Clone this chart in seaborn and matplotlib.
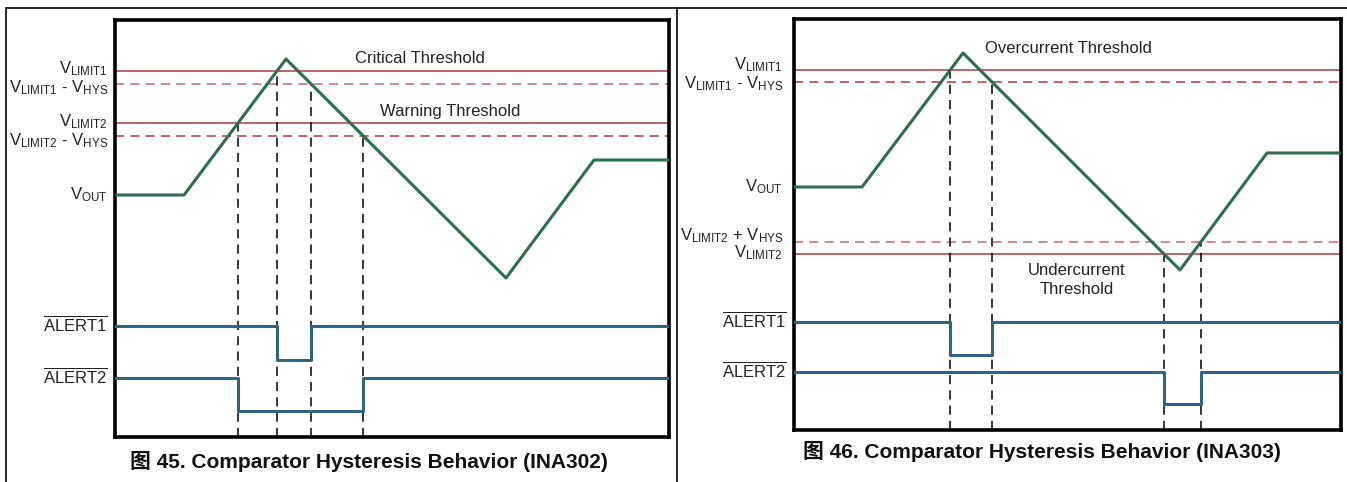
import numpy as np
import pandas as pd
import matplotlib
matplotlib.use("Agg")
import matplotlib.pyplot as plt
import seaborn as sns
from matplotlib.lines import Line2D
import matplotlib.transforms as mtransforms

## data (time in arbitrary units, levels in arbitrary units)
# INA302
t302 = [0, 69, 171, 391, 479, 554]
vout302 = [242, 242, 378, 159, 277, 277]
vlimit1_302 = 366
vlimit1_hys_302 = 353
vlimit2_302 = 314
vlimit2_hys_302 = 301
alert1_302 = (111, 77)   # high, low
alert2_302 = (59, 26)

# INA303
t303 = [0, 68, 169, 386, 473, 547]
vout303 = [243, 243, 377, 160, 277, 277]
vlimit1_303 = 360
vlimit1_hys_303 = 348
vlimit2_hys_303 = 188
vlimit2_303 = 176
alert1_303 = (108, 75)
alert2_303 = (58, 26)

captions = ["图 45. Comparator Hysteresis Behavior (INA302)",
            "图 46. Comparator Hysteresis Behavior (INA303)"]

GREEN = "#2d6e4c"
BLUE = "#2f6580"
RED = "#b03a3a"
RED_D = "#c46a6a"

sns.set_theme(style="white")
plt.rcParams['font.family'] = ['Liberation Sans', 'Noto Sans CJK SC', 'DejaVu Sans']
plt.rcParams['mathtext.fontset'] = 'custom'
plt.rcParams['mathtext.rm'] = 'Liberation Sans'
plt.rcParams['mathtext.it'] = 'Liberation Sans:italic'
plt.rcParams['mathtext.bf'] = 'Liberation Sans:bold'

W, H = 1347, 482
fig = plt.figure(figsize=(W / 100, H / 100), dpi=100)


def px_axes(x0, y0, x1, y1):
    return fig.add_axes([x0 / W, 1 - y1 / H, (x1 - x0) / W, (y1 - y0) / H])


def cross(t, v, i, level):
    # time where segment i..i+1 of the waveform passes level
    a, b = v[i], v[i + 1]
    ta, tb = t[i], t[i + 1]
    return ta + (level - a) * (tb - ta) / (b - a)


def step(tend, high, low, c1, c2):
    return pd.DataFrame({"t": [0, c1, c1, c2, c2, tend],
                         "v": [high, high, low, low, high, high]})


def label(ax, txt, level, dx, dy, size=12):
    off = mtransforms.offset_copy(ax.get_yaxis_transform(), fig=fig,
                                  x=-dx, y=-dy, units='dots')
    ax.text(0, level, txt, transform=off, ha='right', va='center',
            fontsize=size, color='#222222')


def style(ax, tend, top):
    ax.set_xlim(0, tend)
    ax.set_ylim(0, top)
    ax.set_xticks([])
    ax.set_yticks([])
    ax.set_xlabel("")
    ax.set_ylabel("")
    for s in ax.spines.values():
        s.set_visible(True)
        s.set_color("black")
        s.set_linewidth(2.6)


# ---------------- INA302 ----------------
ax0 = px_axes(115, 20, 669, 437)
tend = t302[-1]
for lv, ls, c in [(vlimit1_302, '-', RED), (vlimit1_hys_302, (0, (6, 4)), RED_D),
                  (vlimit2_302, '-', RED), (vlimit2_hys_302, (0, (6, 4)), RED)]:
    ax0.axhline(lv, color=c, lw=1.1, ls=ls, zorder=1)

c_a = cross(t302, vout302, 1, vlimit2_302)
c_b = cross(t302, vout302, 1, vlimit1_302)
c_c = cross(t302, vout302, 2, vlimit1_hys_302)
c_d = cross(t302, vout302, 2, vlimit2_hys_302)
ax0.vlines([c_a, c_b, c_c, c_d], 0,
           [vlimit2_302, vlimit1_302, vlimit1_hys_302, vlimit2_hys_302],
           colors='black', lw=1.1, linestyles=(0, (6, 4)), zorder=1)

df = pd.DataFrame({"t": t302, "v": vout302})
sns.lineplot(data=df, x="t", y="v", ax=ax0, color=GREEN, lw=2.2,
             sort=False, estimator=None, zorder=3)
sns.lineplot(data=step(tend, *alert1_302, c_b, c_c), x="t", y="v", ax=ax0,
             color=BLUE, lw=2.2, sort=False, estimator=None, zorder=3)
sns.lineplot(data=step(tend, *alert2_302, c_a, c_d), x="t", y="v", ax=ax0,
             color=BLUE, lw=2.2, sort=False, estimator=None, zorder=3)

ax0.text(240, 379, "Critical Threshold", fontsize=12, va='center', color='#222222')
ax0.text(265, 326, "Warning Threshold", fontsize=12, va='center', color='#222222')

label(ax0, r"V$_{\mathregular{LIMIT1}}$", vlimit1_302, 7, -2)
label(ax0, r"V$_{\mathregular{LIMIT1}}$ - V$_{\mathregular{HYS}}$", vlimit1_hys_302, 7, 4)
label(ax0, r"V$_{\mathregular{LIMIT2}}$", vlimit2_302, 7, -1)
label(ax0, r"V$_{\mathregular{LIMIT2}}$ - V$_{\mathregular{HYS}}$", vlimit2_hys_302, 7, 5)
label(ax0, r"V$_{\mathregular{OUT}}$", vout302[0], 7, 0)
label(ax0, r"$\mathregular{\overline{ALERT1}}$", alert1_302[0], 7, -2)
label(ax0, r"$\mathregular{\overline{ALERT2}}$", alert2_302[0], 7, -2)
style(ax0, tend, 417)

# ---------------- INA303 ----------------
ax1 = px_axes(794, 19, 1341, 430)
tend = t303[-1]
for lv, ls, c in [(vlimit1_303, '-', RED), (vlimit1_hys_303, (0, (6, 4)), RED),
                  (vlimit2_hys_303, (0, (6, 4)), RED_D), (vlimit2_303, '-', RED)]:
    ax1.axhline(lv, color=c, lw=1.1, ls=ls, zorder=1)

d_a = cross(t303, vout303, 1, vlimit1_303)
d_b = cross(t303, vout303, 2, vlimit1_hys_303)
d_c = cross(t303, vout303, 2, vlimit2_303)
d_d = cross(t303, vout303, 3, vlimit2_hys_303)
ax1.vlines([d_a, d_b, d_c, d_d], 0,
           [vlimit1_303, vlimit1_hys_303, vlimit2_303, vlimit2_hys_303],
           colors='black', lw=1.1, linestyles=(0, (6, 4)), zorder=1)

df = pd.DataFrame({"t": t303, "v": vout303})
sns.lineplot(data=df, x="t", y="v", ax=ax1, color=GREEN, lw=2.2,
             sort=False, estimator=None, zorder=3)
sns.lineplot(data=step(tend, *alert1_303, d_a, d_b), x="t", y="v", ax=ax1,
             color=BLUE, lw=2.2, sort=False, estimator=None, zorder=3)
sns.lineplot(data=step(tend, *alert2_303, d_c, d_d), x="t", y="v", ax=ax1,
             color=BLUE, lw=2.2, sort=False, estimator=None, zorder=3)

ax1.text(191, 382, "Overcurrent Threshold", fontsize=12, va='center', color='#222222')
ax1.text(283, 150, "Undercurrent\nThreshold", fontsize=12, va='center', ha='center',
         linespacing=1.35, color='#222222')

label(ax1, r"V$_{\mathregular{LIMIT1}}$", vlimit1_303, 11, -5)
label(ax1, r"V$_{\mathregular{LIMIT1}}$ - V$_{\mathregular{HYS}}$", vlimit1_hys_303, 11, 2)
label(ax1, r"V$_{\mathregular{OUT}}$", vout303[0], 11, 0)
label(ax1, r"V$_{\mathregular{LIMIT2}}$ + V$_{\mathregular{HYS}}$", vlimit2_hys_303, 11, -6)
label(ax1, r"V$_{\mathregular{LIMIT2}}$", vlimit2_303, 11, -1)
label(ax1, r"$\mathregular{\overline{ALERT1}}$", alert1_303[0], 7, -2)
label(ax1, r"$\mathregular{\overline{ALERT2}}$", alert2_303[0], 7, -2)
style(ax1, tend, 411)

# captions
fig.text(369 / W, 1 - 461 / H, captions[0], ha='center', va='center',
         fontsize=15, fontweight='bold', color='#111111')
fig.text(1042 / W, 1 - 452 / H, captions[1], ha='center', va='center',
         fontsize=15, fontweight='bold', color='#111111')

# page frame lines
for xs, ys in [([6, W], [8, 8]), ([6, 6], [8, H]), ([677, 677], [8, H])]:
    fig.add_artist(Line2D([x / W for x in xs], [1 - y / H for y in ys],
                          color='black', lw=1.2))

fig.savefig("out.png", dpi=100)
